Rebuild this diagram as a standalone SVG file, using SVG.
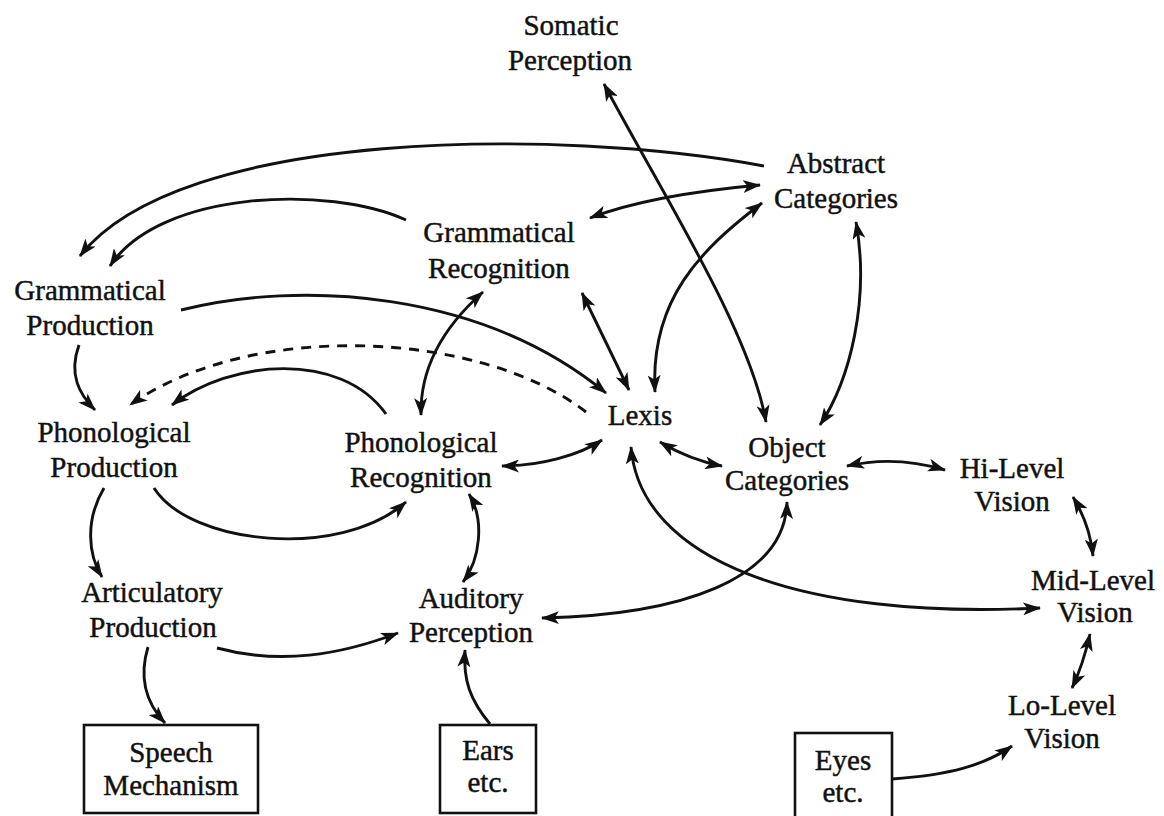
<svg xmlns="http://www.w3.org/2000/svg" width="1164" height="816" viewBox="0 0 1164 816">
<style>
text{font-family:"Liberation Serif","Times New Roman",serif;font-size:29px;fill:#111;stroke:#111;stroke-width:0.45;text-anchor:middle}
.c{fill:none;stroke:#111;stroke-width:2.9}
.d{stroke-dasharray:10 8}
.box{fill:none;stroke:#111;stroke-width:2.6}
</style>
<defs>
<marker id="a" viewBox="0 0 18 13" refX="17" refY="6.5" markerWidth="18" markerHeight="13" markerUnits="userSpaceOnUse" orient="auto-start-reverse">
<path d="M0,0 L18,6.5 L0,13 L4.5,6.5 z" fill="#111"/>
</marker>
</defs>
<rect width="1164" height="816" fill="#fff"/>
<g id="connectors">
<path class="c" d="M764,166 C560,128 180,128 80,256" marker-end="url(#a)"/>
<path class="c" d="M406,220 C330,185 160,190 110,266" marker-end="url(#a)"/>
<path class="c" d="M590,218 Q650,195 760,185" marker-start="url(#a)" marker-end="url(#a)"/>
<path class="c" d="M762,203 C700,250 650,300 655,392" marker-start="url(#a)" marker-end="url(#a)"/>
<path class="c" d="M604,84 C660,190 750,330 766,422" marker-start="url(#a)" marker-end="url(#a)"/>
<path class="c" d="M856,222 C870,300 850,380 820,425" marker-start="url(#a)" marker-end="url(#a)"/>
<path class="c" d="M582,293 L629,390" marker-start="url(#a)" marker-end="url(#a)"/>
<path class="c" d="M181,310 C300,280 480,290 606,393" marker-end="url(#a)"/>
<path class="c d" d="M586,412 C480,330 250,320 130,405" marker-end="url(#a)"/>
<path class="c" d="M386,414 C340,350 230,360 172,405" marker-end="url(#a)"/>
<path class="c" d="M79,345 C68,375 80,395 95,410" marker-end="url(#a)"/>
<path class="c" d="M483,292 C440,330 420,370 421,415" marker-start="url(#a)" marker-end="url(#a)"/>
<path class="c" d="M502,466 C540,466 580,455 602,440" marker-start="url(#a)" marker-end="url(#a)"/>
<path class="c" d="M660,442 Q690,460 722,466" marker-start="url(#a)" marker-end="url(#a)"/>
<path class="c" d="M847,466 Q895,455 945,470" marker-start="url(#a)" marker-end="url(#a)"/>
<path class="c" d="M1073,497 Q1090,525 1093,556" marker-start="url(#a)" marker-end="url(#a)"/>
<path class="c" d="M1090,634 Q1083,665 1072,688" marker-start="url(#a)" marker-end="url(#a)"/>
<path class="c" d="M631,447 C640,560 800,620 1040,608" marker-start="url(#a)" marker-end="url(#a)"/>
<path class="c" d="M787,502 C785,580 680,615 542,618" marker-start="url(#a)" marker-end="url(#a)"/>
<path class="c" d="M154,488 C190,545 340,560 406,502" marker-end="url(#a)"/>
<path class="c" d="M104,488 C85,520 88,555 102,577" marker-end="url(#a)"/>
<path class="c" d="M469,494 C485,520 480,560 463,582" marker-start="url(#a)" marker-end="url(#a)"/>
<path class="c" d="M217,648 C280,665 340,655 398,633" marker-end="url(#a)"/>
<path class="c" d="M148,647 C138,680 148,705 165,723" marker-end="url(#a)"/>
<path class="c" d="M490,724 C470,700 463,680 465,650" marker-end="url(#a)"/>
<path class="c" d="M892,779 C950,775 985,765 1012,746" marker-end="url(#a)"/>
</g>
<g id="somatic"><text x="571" y="35">Somatic</text><text x="570" y="70">Perception</text></g>
<g id="abstract"><text x="836" y="173">Abstract</text><text x="836" y="208">Categories</text></g>
<g id="gram-rec"><text x="499" y="242">Grammatical</text><text x="499" y="278">Recognition</text></g>
<g id="gram-prod"><text x="90" y="300">Grammatical</text><text x="90" y="335">Production</text></g>
<g id="lexis"><text x="640" y="425">Lexis</text></g>
<g id="phon-prod"><text x="114" y="442">Phonological</text><text x="114" y="477">Production</text></g>
<g id="phon-rec"><text x="421" y="452">Phonological</text><text x="421" y="487">Recognition</text></g>
<g id="object"><text x="787" y="457">Object</text><text x="787" y="490">Categories</text></g>
<g id="hi-level"><text x="1012" y="478">Hi-Level</text><text x="1012" y="511">Vision</text></g>
<g id="mid-level"><text x="1093" y="590">Mid-Level</text><text x="1095" y="622">Vision</text></g>
<g id="lo-level"><text x="1062" y="715">Lo-Level</text><text x="1062" y="748">Vision</text></g>
<g id="artic"><text x="152" y="602">Articulatory</text><text x="153" y="637">Production</text></g>
<g id="auditory"><text x="471" y="608">Auditory</text><text x="471" y="642">Perception</text></g>
<g id="speech"><rect class="box" x="84" y="725" width="174" height="88"/><text x="171" y="762">Speech</text><text x="171" y="795">Mechanism</text></g>
<g id="ears"><rect class="box" x="440" y="725" width="96" height="88"/><text x="488" y="760">Ears</text><text x="488" y="792">etc.</text></g>
<g id="eyes"><rect class="box" x="795" y="733" width="97" height="90"/><text x="843" y="770">Eyes</text><text x="843" y="802">etc.</text></g>
</svg>
